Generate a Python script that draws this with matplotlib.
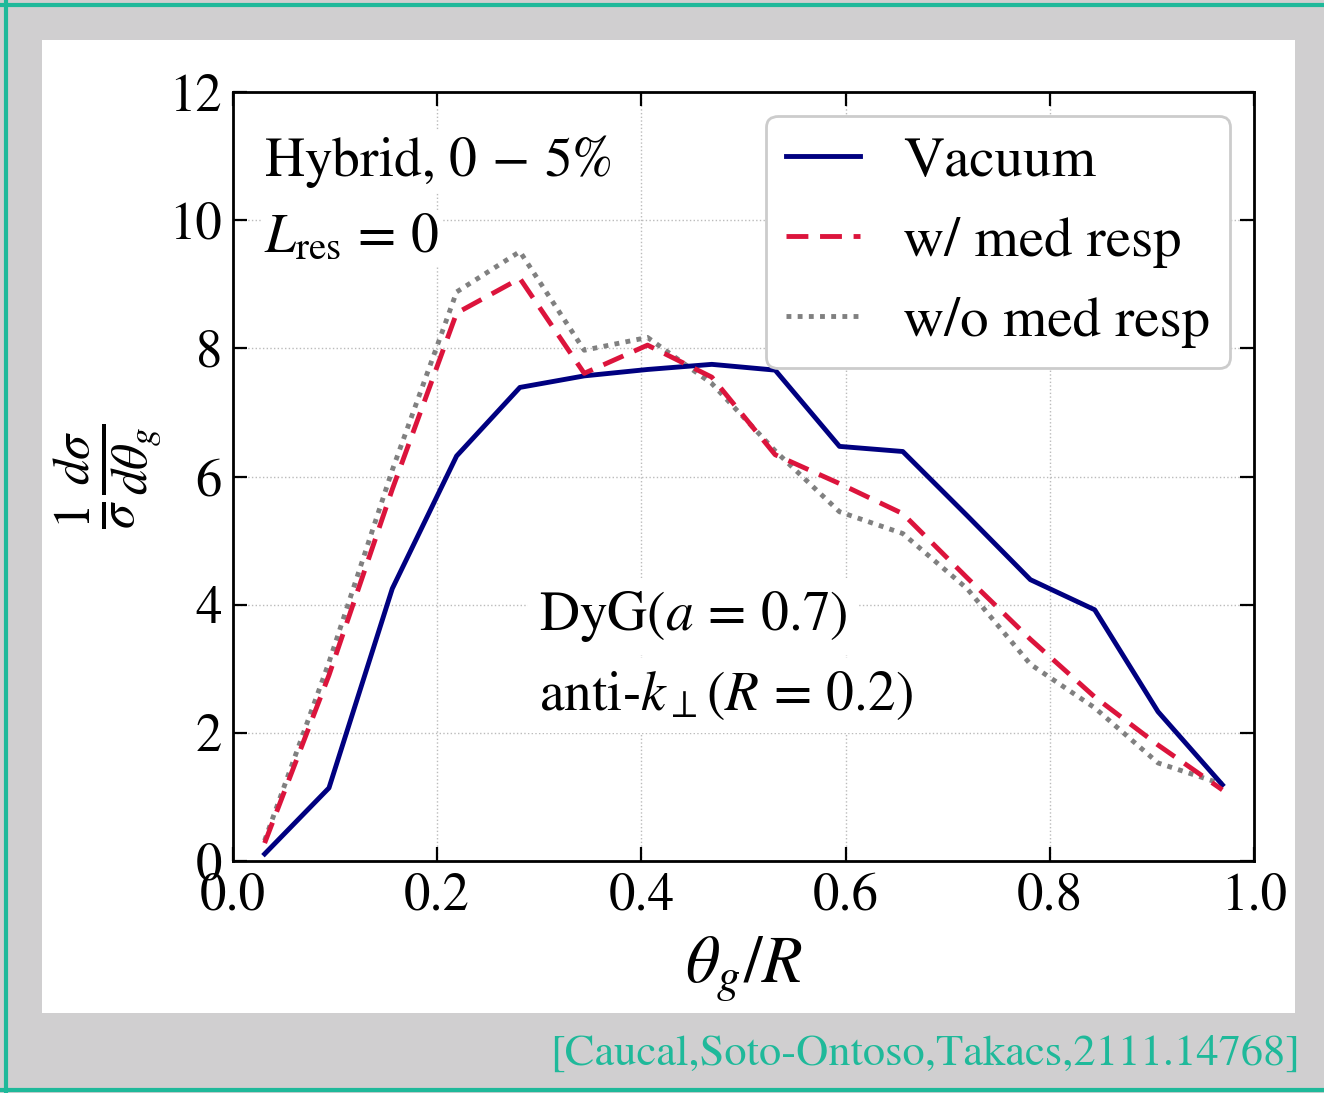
import matplotlib
matplotlib.use("Agg")
import matplotlib.pyplot as plt
from matplotlib.patches import Rectangle
from matplotlib.lines import Line2D

plt.rcParams['font.family'] = 'serif'
plt.rcParams['font.serif'] = ['STIXGeneral', 'DejaVu Serif']
plt.rcParams['mathtext.fontset'] = 'stix'

# bin centres of theta_g / R
theta = [0.031, 0.094, 0.156, 0.219, 0.281, 0.344, 0.406, 0.469,
         0.531, 0.594, 0.656, 0.719, 0.781, 0.844, 0.906, 0.969]
vacuum = [0.11, 1.14, 4.25, 6.32, 7.39, 7.57, 7.67, 7.75,
          7.66, 6.47, 6.39, 5.39, 4.39, 3.92, 2.33, 1.19]
med_resp = [0.28, 2.9, 5.8, 8.55, 9.09, 7.61, 8.05, 7.55,
            6.34, 5.89, 5.42, 4.42, 3.46, 2.56, 1.81, 1.11]
no_med_resp = [0.32, 3.1, 6.1, 8.88, 9.51, 7.97, 8.17, 7.45,
               6.4, 5.45, 5.11, 4.25, 3.07, 2.39, 1.53, 1.2]
labels = ['Vacuum', 'w/ med resp', 'w/o med resp']
x_ticks = [0.0, 0.2, 0.4, 0.6, 0.8, 1.0]
y_ticks = [0, 2, 4, 6, 8, 10, 12]

W, H = 1324, 1093
fig = plt.figure(figsize=(W / 100, H / 100), dpi=100)
fig.patch.set_facecolor('#d0cfd0')

# slide frame: white panel + teal border
panel = Rectangle((42 / W, 1 - 1013 / H), (1295 - 42) / W, (1013 - 40) / H,
                  transform=fig.transFigure, facecolor='white', edgecolor='none', zorder=-5)
fig.patches.append(panel)
teal = '#1fb99a'
fig.add_artist(Line2D([0, 1], [1 - 5 / H, 1 - 5 / H], color=teal, lw=3, transform=fig.transFigure))
fig.add_artist(Line2D([6 / W, 6 / W], [0, 1], color=teal, lw=3, transform=fig.transFigure))
fig.add_artist(Line2D([0, 1], [1 - 1090 / H, 1 - 1090 / H], color=teal, lw=3, transform=fig.transFigure))

ax = fig.add_axes([233 / W, 1 - 861 / H, (1254 - 233) / W, (861 - 92) / H])
ax.set_facecolor('white')

ax.plot(theta, vacuum, color='#000080', lw=3.5, label=labels[0], zorder=3)
ax.plot(theta, med_resp, color='#dc143c', lw=3.5, ls=(0, (4.5, 2.4)), label=labels[1], zorder=3)
ax.plot(theta, no_med_resp, color='#808080', lw=3.5, ls=(0, (1, 1.3)), label=labels[2], zorder=2)

ax.set_xlim(0, 1)
ax.set_ylim(0, 12)
ax.set_xticks(x_ticks)
ax.set_xticklabels(['0.0', '0.2', '0.4', '0.6', '0.8', '1.0'])
ax.set_yticks(y_ticks)
ax.tick_params(direction='in', top=True, right=True, length=10, width=1.6,
               labelsize=38, pad=8)
for s in ax.spines.values():
    s.set_linewidth(2)
ax.grid(True, linestyle=':', color='#bbbbbb', lw=1)

ax.set_xlabel(r'$\theta_g/R$', fontsize=48, labelpad=10)
ax.set_ylabel(r'$\frac{1}{\sigma}\frac{d\sigma}{d\theta_g}$', fontsize=52)
ax.yaxis.set_label_coords(-0.068, 0.5)

box = dict(facecolor='white', edgecolor='none', pad=2)
ax.text(0.03, 0.91, r'Hybrid, $0\,-\,5\%$', transform=ax.transAxes, fontsize=40,
        va='center', ha='left', bbox=box, zorder=4)
ax.text(0.03, 0.81, r'$L_{\rm res}\,=\,0$', transform=ax.transAxes, fontsize=40,
        va='center', ha='left', bbox=box, zorder=4)
ax.text(0.30, 0.318, r'DyG($a\,=\,0.7$)', transform=ax.transAxes, fontsize=40,
        va='center', ha='left', bbox=dict(facecolor='white', edgecolor='none', pad=8), zorder=4)
ax.text(0.30, 0.215, r'anti-$k_\perp(R\,=\,0.2)$', transform=ax.transAxes, fontsize=40,
        va='center', ha='left', bbox=dict(facecolor='white', edgecolor='none', pad=8), zorder=4)

leg = ax.legend(loc='upper right', fontsize=41, frameon=True, fancybox=True,
                edgecolor='#cccccc', framealpha=1, handlelength=1.3,
                handletextpad=0.75, labelspacing=0.5, borderpad=0.35,
                borderaxespad=0.42)
leg.get_frame().set_linewidth(2)
leg.set_zorder(5)

fig.text(1300 / W, 1 - 1055 / H, '[Caucal,Soto-Ontoso,Takacs,2111.14768]',
         color=teal, fontsize=32, ha='right', va='center', family='STIXGeneral')

fig.savefig('out.png', dpi=100, facecolor=fig.get_facecolor())
